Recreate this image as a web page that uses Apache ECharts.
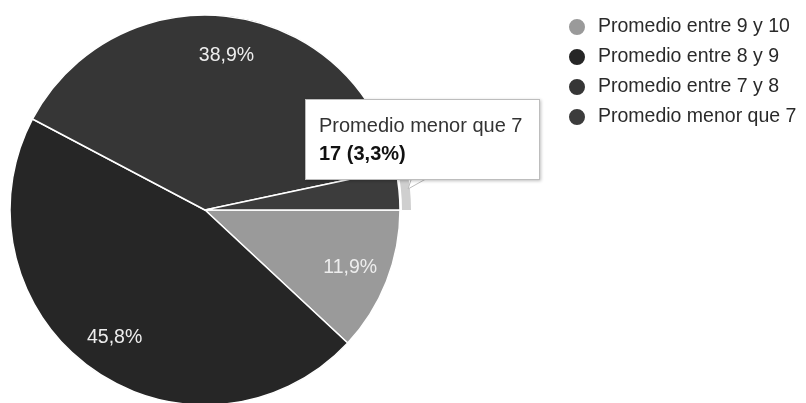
<!DOCTYPE html>
<html>
<head>
<meta charset="utf-8">
<script src="https://cdn.jsdelivr.net/npm/echarts@6/dist/echarts.min.js"></script>
<style>
html,body{margin:0;padding:0;background:#fff;}
#chart{width:806px;height:403px;}
</style>
</head>
<body>
<div id="chart"></div>
<script>
const categories = ['Promedio entre 9 y 10', 'Promedio entre 8 y 9', 'Promedio entre 7 y 8', 'Promedio menor que 7'];
const values = [61, 234, 199, 17];
const colors = ['#9a9a9a', '#262626', '#363636', '#3c3c3c'];
const highlightedIndex = 3;

const FONT = "'Liberation Sans', Arial, sans-serif";
const total = values.reduce((a, b) => a + b, 0);
const pct = v => (v / total * 100).toFixed(1).replace('.', ',');

const mainData = categories.map((c, i) => ({ name: c, value: values[i], itemStyle: { color: colors[i] } }));
const labelData = categories.map((c, i) => ({ name: c, value: values[i] }));
const ringData = categories.map((c, i) => ({
  name: c, value: values[i],
  itemStyle: { color: i === highlightedIndex ? '#cfcfcf' : 'rgba(0,0,0,0)' }
}));

const chart = echarts.init(document.getElementById('chart'), null, { renderer: 'canvas' });
chart.setOption({
  animation: false,
  backgroundColor: '#fff',
  color: colors,
  legend: {
    orient: 'vertical',
    left: 562,
    top: 12,
    padding: 5,
    icon: 'circle',
    itemWidth: 18,
    itemHeight: 18,
    itemGap: 10,
    data: categories.map((c, i) => ({ name: c, itemStyle: { color: colors[i] } })),
    textStyle: { fontFamily: FONT, fontSize: 19.5, color: '#2a2a2a', lineHeight: 20, padding: [0, 0, 0, 7] },
    selectedMode: false
  },
  tooltip: {
    trigger: 'item',
    triggerOn: 'none',
    alwaysShowContent: true,
    position: [305, 99],
    backgroundColor: '#fff',
    borderColor: '#bdbdbd',
    borderWidth: 1,
    padding: [11, 14, 12, 13],
    extraCssText: 'box-shadow:1px 1px 3px rgba(0,0,0,0.25);border-radius:0;width:206px;',
    formatter: p => '<div style="font-family:' + FONT.replace(/'/g, '') + ';font-size:20px;line-height:28px;color:#333;">' +
      p.name + '<br><b style="color:#111;">' + p.value + ' (' + pct(p.value) + '%)</b></div>'
  },
  graphic: [{
    type: 'polygon',
    z: 100,
    shape: { points: [[414, 171], [440, 171], [408, 189]] },
    style: { fill: '#fff', stroke: '#bdbdbd', lineWidth: 1 }
  }],
  series: [
    {
      name: 'Promedios',
      type: 'pie',
      center: [205, 210],
      radius: 195,
      startAngle: 0,
      clockwise: true,
      avoidLabelOverlap: false,
      label: { show: false },
      labelLine: { show: false },
      itemStyle: { borderColor: '#fff', borderWidth: 1.5 },
      emphasis: { disabled: true },
      data: mainData,
      z: 2
    },
    {
      name: 'ring',
      type: 'pie',
      silent: true,
      center: [205, 210],
      radius: [197, 206],
      startAngle: 0,
      clockwise: true,
      label: { show: false },
      labelLine: { show: false },
      data: ringData,
      tooltip: { show: false },
      z: 1
    },
    {
      name: 'labels',
      type: 'pie',
      silent: true,
      center: [205, 210],
      radius: [111, 195],
      startAngle: 0,
      clockwise: true,
      itemStyle: { color: 'rgba(0,0,0,0)' },
      label: {
        show: true,
        position: 'inside',
        fontFamily: FONT,
        fontSize: 19.5,
        color: '#ededed',
        formatter: p => (p.value / total >= 0.05 ? pct(p.value) + '%' : '')
      },
      labelLine: { show: false },
      data: labelData,
      tooltip: { show: false },
      z: 3
    }
  ]
});
chart.dispatchAction({ type: 'showTip', seriesIndex: 0, dataIndex: highlightedIndex });
</script>
</body>
</html>
